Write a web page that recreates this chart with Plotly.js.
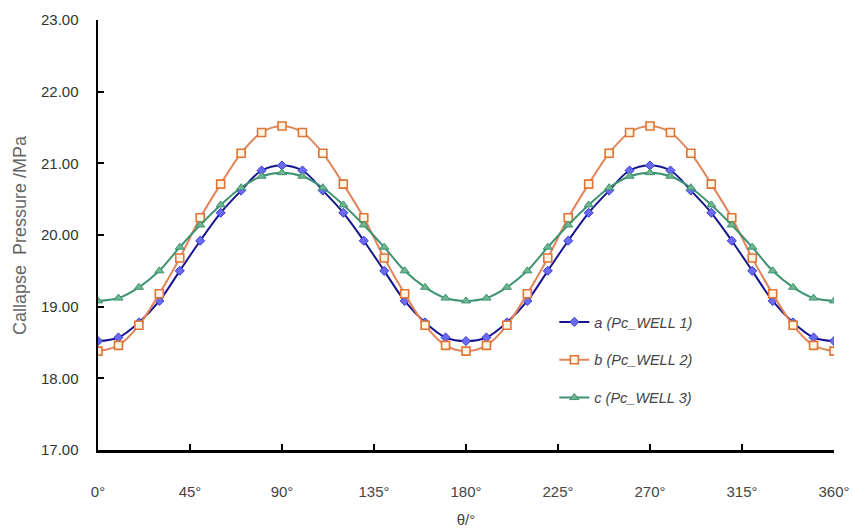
<!DOCTYPE html>
<html>
<head>
<meta charset="utf-8">
<script src="https://cdn.plot.ly/plotly-3.0.1.min.js"></script>
<style>html,body{margin:0;padding:0;background:#fff;}#chart{width:853px;height:532px;}</style>
</head>
<body>
<div id="chart"></div>
<script>
var theta = [0,10,20,30,40,50,60,70,80,90,100,110,120,130,140,150,160,170,180,
             190,200,210,220,230,240,250,260,270,280,290,300,310,320,330,340,350,360];
var wellA = [18.52,18.57,18.78,19.08,19.50,19.92,20.31,20.62,20.90,20.97,20.90,20.62,20.31,19.92,19.50,19.08,18.78,18.57,18.52,
             18.57,18.78,19.08,19.50,19.92,20.31,20.62,20.90,20.97,20.90,20.62,20.31,19.92,19.50,19.08,18.78,18.57,18.52];
var wellB = [18.38,18.46,18.74,19.18,19.68,20.24,20.71,21.14,21.43,21.52,21.43,21.14,20.71,20.24,19.68,19.18,18.74,18.46,18.38,
             18.46,18.74,19.18,19.68,20.24,20.71,21.14,21.43,21.52,21.43,21.14,20.71,20.24,19.68,19.18,18.74,18.46,18.38];
var wellC = [19.08,19.12,19.27,19.50,19.83,20.14,20.42,20.66,20.82,20.87,20.82,20.66,20.42,20.14,19.83,19.50,19.27,19.12,19.08,
             19.12,19.27,19.50,19.83,20.14,20.42,20.66,20.82,20.87,20.82,20.66,20.42,20.14,19.83,19.50,19.27,19.12,19.08];
var seriesNames = ['a (Pc_WELL 1)','b (Pc_WELL 2)','c (Pc_WELL 3)'];
var xTickVals = [0,45,90,135,180,225,270,315,360];
var xTickText = ['0°','45°','90°','135°','180°','225°','270°','315°','360°'];
var yTickVals = [17,18,19,20,21,22,23];
var yTitle = 'Callapse  Pressure /MPa';

var traces = [
  {x: theta, y: wellA, name: seriesNames[0], legendgroup:'a', mode:'lines+markers', type:'scatter',
   line:{color:'#14148f', width:2, shape:'spline'},
   marker:{symbol:'diamond', size:7, color:'#6a6af5', line:{color:'#3a3ad0', width:1}}},
  {x: theta, y: wellB, name: seriesNames[1], legendgroup:'b', mode:'lines+markers', type:'scatter',
   line:{color:'#e2855a', width:2, shape:'spline'},
   marker:{symbol:'square', size:8, color:'#fff6e6', line:{color:'#e07432', width:1.6}}},
  {x: theta, y: wellC, name: seriesNames[2], legendgroup:'c', mode:'lines+markers', type:'scatter',
   line:{color:'#3f9370', width:2, shape:'spline'},
   marker:{symbol:'triangle-up', size:8, color:'#6fb592', line:{color:'#3f9370', width:1}}}
];

var layout = {
  width: 853, height: 532,
  margin: {l: 98, r: 19, t: 20, b: 82},
  paper_bgcolor: '#fff', plot_bgcolor: '#fff',
  font: {family: 'Liberation Sans, Arial, sans-serif', color: '#333'},
  showlegend: true,
  legend: {x: 0.62, y: 0.335, xanchor: 'left', yanchor: 'top', bgcolor: 'rgba(0,0,0,0)',
           tracegroupgap: 16, font: {size: 14.5, color: '#444', family: 'Liberation Sans, Arial, sans-serif', style: 'italic'}},
  xaxis: {range: [0, 360], tickvals: xTickVals, ticktext: xTickText,
          showline: true, linecolor: '#000', linewidth: 2.5, showgrid: false, zeroline: false,
          ticks: 'inside', ticklen: 6, tickwidth: 2, tickcolor: '#000',
          ticklabelstandoff: 26,
          tickfont: {size: 15, color: '#444'},
          title: {text: 'θ/°', font: {size: 15, color: '#444'}, standoff: 16}},
  yaxis: {range: [17, 23], tickvals: yTickVals, tickformat: '.2f',
          showline: true, linecolor: '#000', linewidth: 2.5, showgrid: false, zeroline: false,
          ticks: 'inside', ticklen: 6, tickwidth: 2, tickcolor: '#000',
          ticklabelstandoff: 14,
          tickfont: {size: 15, color: '#333'}},
  annotations: [{text: yTitle, xref: 'paper', yref: 'paper', x: -0.106, y: 0.5,
                 xanchor: 'center', yanchor: 'middle', textangle: -90, showarrow: false,
                 font: {size: 18, color: '#666', family: 'Liberation Sans, Arial, sans-serif'}}]
};

Plotly.newPlot('chart', traces, layout, {displayModeBar: false, staticPlot: true});
</script>
</body>
</html>
